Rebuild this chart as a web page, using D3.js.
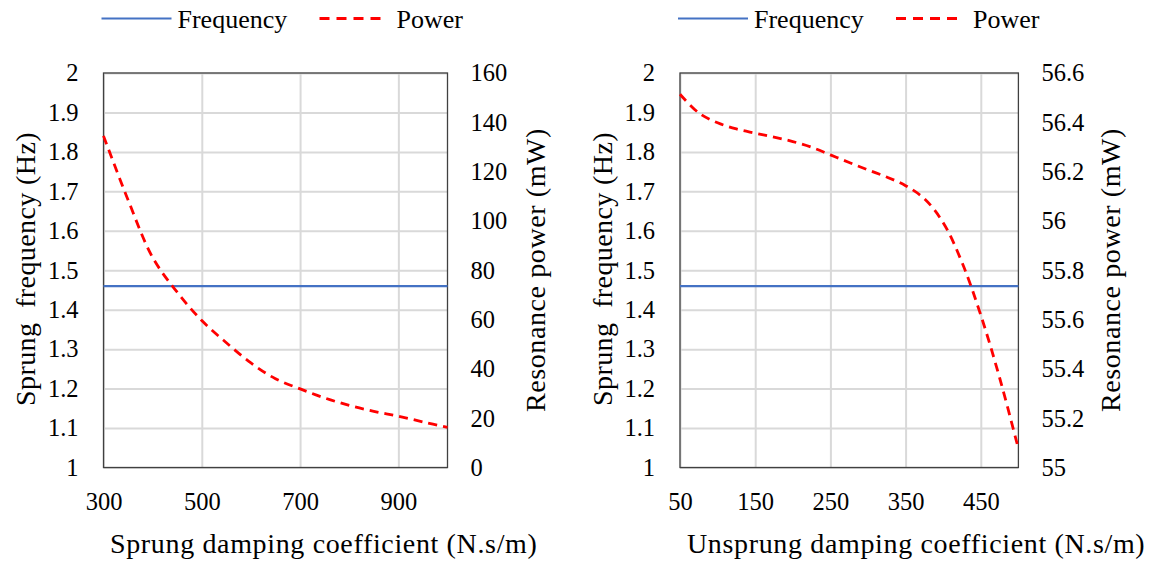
<!DOCTYPE html>
<html>
<head>
<meta charset="utf-8">
<script src="https://cdn.jsdelivr.net/npm/d3@7"></script>
</head>
<body style="margin:0;background:#fff">
<svg id="svg" width="1157" height="562"></svg>
<script>
// sprung damping sweep (left panel)
const sprungDamping = [300, 350, 400, 450, 500, 550, 600, 650, 700, 750, 800, 850, 900, 950, 1000];
const sprungPower = [134.5, 108.5, 85.2, 71.1, 59.6, 50.6, 42.4, 36.0, 31.9, 28.2, 25.2, 22.8, 20.8, 18.5, 16.3];
const sprungFreq = [1.46, 1.46, 1.46, 1.46, 1.46, 1.46, 1.46, 1.46, 1.46, 1.46, 1.46, 1.46, 1.46, 1.46, 1.46];

// unsprung damping sweep (right panel)
const unsprungDamping = [50, 75, 100, 125, 150, 175, 200, 225, 250, 275, 300, 325, 350, 375, 400, 425, 450, 475, 500];
const unsprungPower = [56.514, 56.438, 56.398, 56.373, 56.356, 56.340, 56.322, 56.299, 56.268, 56.237, 56.207,
  56.178, 56.143, 56.090, 55.993, 55.832, 55.618, 55.364, 55.076];
const unsprungFreq = [1.46, 1.46, 1.46, 1.46, 1.46, 1.46, 1.46, 1.46, 1.46, 1.46, 1.46, 1.46, 1.46, 1.46, 1.46,
  1.46, 1.46, 1.46, 1.46];

// tick labels
const freqTicks = [1, 1.1, 1.2, 1.3, 1.4, 1.5, 1.6, 1.7, 1.8, 1.9, 2];
const sprungTicks = [300, 500, 700, 900];
const sprungPowerTicks = [0, 20, 40, 60, 80, 100, 120, 140, 160];
const unsprungTicks = [50, 150, 250, 350, 450];
const unsprungPowerTicks = [55, 55.2, 55.4, 55.6, 55.8, 56, 56.2, 56.4, 56.6];

const legendNames = ["Frequency", "Power"];

const svg = d3.select("#svg");
const plotTop = 73, plotBottom = 467.5;
const blue = "#4472c4", red = "#ff0000";
const FONT = "Liberation Serif";

function serif(sel, size) {
  return sel.attr("font-family", FONT).style("font-family", FONT)
    .attr("font-size", size).attr("fill", "#000");
}

function drawPanel(cfg) {
  const x = d3.scaleLinear().domain(cfg.xDomain).range([cfg.x0, cfg.x1]);
  const yF = d3.scaleLinear().domain([1, 2]).range([plotBottom, plotTop]);
  const yP = d3.scaleLinear().domain(cfg.pDomain).range([plotBottom, plotTop]);
  const w = cfg.x1 - cfg.x0, h = plotBottom - plotTop;
  const g = svg.append("g");

  // grid
  g.append("g")
    .attr("transform", `translate(${cfg.x0},0)`)
    .call(d3.axisLeft(yF).tickValues(freqTicks).tickSize(-w).tickFormat(""))
    .call(a => a.select(".domain").remove())
    .selectAll("line").attr("stroke", "#d9d9d9").attr("stroke-width", 2);
  g.append("g")
    .attr("transform", `translate(0,${plotBottom})`)
    .call(d3.axisBottom(x).tickValues(cfg.xTicks).tickSize(-h).tickFormat(""))
    .call(a => a.select(".domain").remove())
    .selectAll("line").attr("stroke", "#d9d9d9").attr("stroke-width", 2);

  g.append("rect")
    .attr("x", cfg.x0).attr("y", plotTop).attr("width", w).attr("height", h)
    .attr("fill", "none").attr("stroke", "#404040").attr("stroke-width", 1.3);

  // axes labels
  const tickStyle = a => {
    a.attr("font-family", FONT);
    a.select(".domain").remove();
    a.selectAll("line").remove();
    serif(a.selectAll("text"), 24.5);
  };
  g.append("g").attr("transform", `translate(${cfg.x0},0)`)
    .call(d3.axisLeft(yF).tickValues(freqTicks).tickSize(0).tickPadding(25).tickFormat(d => d))
    .call(tickStyle);
  g.append("g").attr("transform", `translate(${cfg.x1},0)`)
    .call(d3.axisRight(yP).tickValues(cfg.pTicks).tickSize(0).tickPadding(23).tickFormat(d => d))
    .call(tickStyle);
  g.append("g").attr("transform", `translate(0,${plotBottom})`)
    .call(d3.axisBottom(x).tickValues(cfg.xTicks).tickSize(0).tickPadding(25).tickFormat(d => d))
    .call(tickStyle);

  // series
  g.append("path")
    .datum(cfg.xs.map((d, i) => [d, cfg.freq[i]]))
    .attr("fill", "none").attr("stroke", blue).attr("stroke-width", 2.2)
    .attr("d", d3.line().x(d => x(d[0])).y(d => yF(d[1])));
  g.append("path")
    .datum(cfg.xs.map((d, i) => [d, cfg.power[i]]))
    .attr("fill", "none").attr("stroke", red).attr("stroke-width", 2.8)
    .attr("stroke-dasharray", "9,6")
    .attr("d", d3.line().curve(d3.curveCatmullRom.alpha(0.5)).x(d => x(d[0])).y(d => yP(d[1])));

  // titles
  g.append("text")
    .attr("x", cfg.xTitleX).attr("y", 553)
    .call(serif, 28)
    .attr("letter-spacing", 0.65)
    .text(cfg.xTitle);
  g.append("text")
    .attr("transform", `translate(${cfg.x0 - 68.5},269) rotate(-90)`)
    .attr("text-anchor", "middle")
    .call(serif, 28)
    .attr("letter-spacing", 0.4)
    .style("white-space", "pre")
    .text("Sprung  frequency (Hz)");
  g.append("text")
    .attr("transform", `translate(${cfg.x1 + cfg.rTitleOff},270) rotate(-90)`)
    .attr("text-anchor", "middle")
    .call(serif, 28)
    .attr("letter-spacing", 0.6)
    .text("Resonance power (mW)");

  // legend
  const lx = cfg.x0 - 2;
  const leg = g.append("g").attr("transform", `translate(${lx},18.5)`);
  leg.append("line").attr("x1", 0).attr("x2", 70).attr("stroke", blue).attr("stroke-width", 2.2);
  leg.append("text").attr("x", 76).attr("y", 9.5).call(serif, 26).text(legendNames[0]);
  leg.append("line").attr("x1", 218).attr("x2", 285).attr("stroke", red).attr("stroke-width", 2.8)
    .attr("stroke-dasharray", "10,7");
  leg.append("text").attr("x", 295).attr("y", 9.5).call(serif, 26).text(legendNames[1]);
}

drawPanel({
  x0: 103.5, x1: 447.5,
  xDomain: [300, 1000], xTicks: sprungTicks,
  pDomain: [0, 160], pTicks: sprungPowerTicks,
  xs: sprungDamping, power: sprungPower, freq: sprungFreq,
  xTitle: "Sprung damping coefficient (N.s/m)", xTitleX: 110, rTitleOff: 97.5
});
drawPanel({
  x0: 680, x1: 1018.4,
  xDomain: [50, 500], xTicks: unsprungTicks,
  pDomain: [55, 56.6], pTicks: unsprungPowerTicks,
  xs: unsprungDamping, power: unsprungPower, freq: unsprungFreq,
  xTitle: "Unsprung damping coefficient (N.s/m)", xTitleX: 687, rTitleOff: 102
});
</script>
</body>
</html>
